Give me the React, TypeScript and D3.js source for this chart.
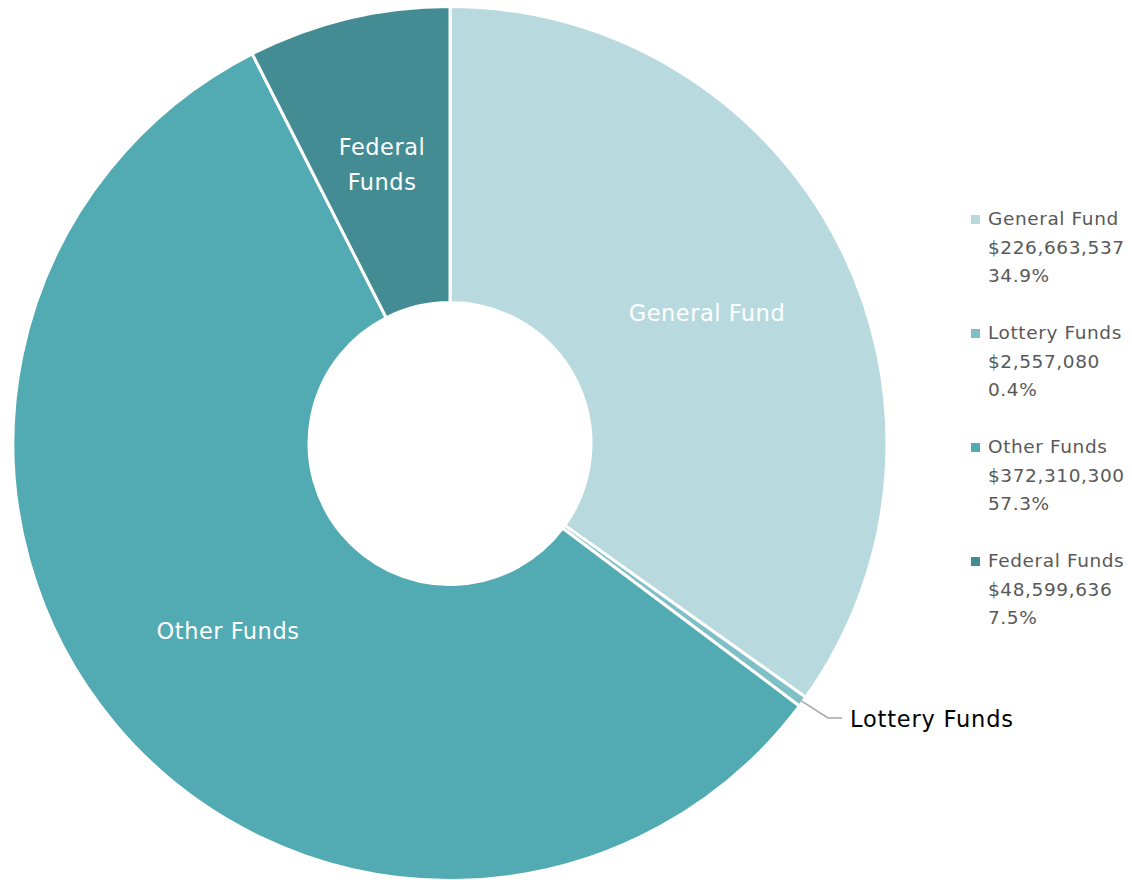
import * as d3 from "d3";

const funds = ["General Fund", "Lottery Funds", "Other Funds", "Federal Funds"];
const amounts = [226663537, 2557080, 372310300, 48599636];
const percents = ["34.9%", "0.4%", "57.3%", "7.5%"];
const colors = ["#B8DADF", "#7FBFC6", "#52AAB3", "#438C93"];

const W = 1132, H = 880;
const cx = 450, cy = 443.5;
const outerR = 437, innerR = 141;

export default function App() {
  const pie = d3.pie<number>().sort(null).value((d) => d);
  const arcs = pie(amounts);
  const arc = d3.arc<d3.PieArcDatum<number>>().innerRadius(innerR).outerRadius(outerR);
  const money = d3.format("$,");

  // leader line for the tiny lottery slice
  const lottery = arcs[1];
  const mid = (lottery.startAngle + lottery.endAngle) / 2;
  const p0: [number, number] = [Math.sin(mid) * (outerR - 2), -Math.cos(mid) * (outerR - 2)];

  // slice label anchor points (relative to page)
  const labelPos: ([number, number] | null)[] = [[707, 313], null, [228, 631], [382, 164]];

  return (
    <svg width={W} height={H} style={{ position: "absolute", left: 0, top: 0 }}
      fontFamily="'DejaVu Sans', sans-serif">
      <g transform={`translate(${cx},${cy})`}>
        {arcs.map((a, i) => (
          <path key={funds[i]} d={arc(a) || ""} fill={colors[i]} stroke="#fff" strokeWidth={3} />
        ))}
        <polyline
          points={`${p0[0]},${p0[1]} ${828 - cx},${718 - cy} ${842 - cx},${718 - cy}`}
          fill="none" stroke="#A6A6A6" strokeWidth={1.5} />
      </g>
      {arcs.map((a, i) => {
        const pos = labelPos[i];
        if (!pos) return null;
        const words = i === 3 ? ["Federal", "Funds"] : [funds[i]];
        return (
          <text key={funds[i]} x={pos[0]} y={pos[1]} textAnchor="middle" fill="#fff" fontSize={22.5} letterSpacing={0.5}>
            {words.map((w, k) => (
              <tspan key={w} x={pos[0]} dy={k === 0 ? (words.length > 1 ? -9 : 8) : 35}>{w}</tspan>
            ))}
          </text>
        );
      })}
      <text x={850} y={727} fontSize={22.5} letterSpacing={0.8} fill="#000">{funds[1]}</text>
      {funds.map((f, i) => {
        const y0 = 225 + i * 114;
        return (
          <g key={f}>
            <rect x={971} y={y0 - 10} width={9} height={9} fill={colors[i]} />
            <text x={988} y={y0} fontSize={18.5} letterSpacing={0.6} fill="#595959">
              <tspan x={988}>{f}</tspan>
              <tspan x={988} dy={28.5}>{money(amounts[i])}</tspan>
              <tspan x={988} dy={28.5}>{percents[i]}</tspan>
            </text>
          </g>
        );
      })}
    </svg>
  );
}
